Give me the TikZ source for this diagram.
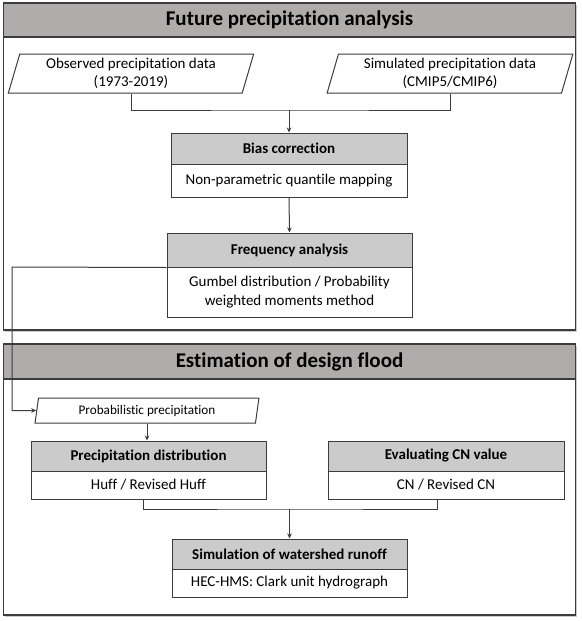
\documentclass[tikz,border=0pt]{standalone}
\usepackage{fontspec}
\setmainfont{Carlito}[Ligatures=NoCommon]
\usetikzlibrary{arrows.meta,shapes.geometric,shadows}
\definecolor{bandgray}{RGB}{176,172,172}
\definecolor{headgray}{RGB}{203,203,203}
\definecolor{edge}{RGB}{60,60,60}

\begin{document}
\begin{tikzpicture}[x=1pt,y=-1pt,>={Stealth[length=5pt,width=4.5pt]},
  frame/.style={draw=edge,fill=white,line width=1.5pt,minimum width=572,inner sep=0pt,
    drop shadow={shadow xshift=1.8pt,shadow yshift=-1.8pt,opacity=0.4}},
  band/.style={draw=edge,fill=bandgray,line width=1.5pt,minimum width=572,minimum height=34,
    inner sep=0pt,font=\fontsize{21}{25}\selectfont\bfseries},
  head/.style={draw=edge,fill=headgray,line width=1pt,inner sep=0pt,
    font=\fontsize{15}{18}\selectfont\bfseries},
  body/.style={draw=edge,fill=white,line width=1pt,inner sep=0pt,align=center,
    font=\fontsize{15}{19}\selectfont},
  data/.style={trapezium,trapezium left angle=74,trapezium right angle=106,
    trapezium stretches=true,draw=edge,fill=white,line width=1pt,inner sep=0pt,
    align=center,font=\fontsize{15}{18}\selectfont},
  link/.style={line width=1pt,draw=edge}]
  \useasboundingbox (0,0) rectangle (581,621);

  % first part
  \node[frame,minimum height=327] (upper) at (289.5,166.5) {};
  \node[band] (uppertitle) at (289.5,20) {Future precipitation analysis};
  \node[data,minimum width=246,minimum height=39] (obs) at (131,73.5) {Observed precipitation data\\(1973-2019)};
  \node[data,minimum width=246,minimum height=39] (sim) at (450,73.5) {Simulated precipitation data\\(CMIP5/CMIP6)};
  \node[head,minimum width=236,minimum height=31] (biash) at (289,148.5) {Bias correction};
  \node[body,minimum width=236,minimum height=33] (biasb) at (289,180.5) {Non-parametric quantile mapping};
  \node[head,minimum width=245,minimum height=34] (freqh) at (289.5,250) {Frequency analysis};
  \node[body,minimum width=245,minimum height=50] (freqb) at (289.5,292) {Gumbel distribution / Probability\\weighted moments method};

  % second part
  \node[frame,minimum height=271] (lower) at (289.5,479.5) {};
  \node[band,minimum height=35] (lowertitle) at (289.5,361.5) {Estimation of design flood};
  \node[data,minimum width=224,minimum height=25,trapezium left angle=79,trapezium right angle=101,
    font=\fontsize{13.2}{16}\selectfont] (prob) at (147,410.5) {Probabilistic precipitation};
  \node[head,minimum width=235,minimum height=30] (disth) at (148.5,456) {Precipitation distribution};
  \node[body,minimum width=235,minimum height=28] (distb) at (148.5,485) {Huff / Revised Huff};
  \node[head,minimum width=236,minimum height=30] (cnh) at (446,456) {Evaluating CN value};
  \node[body,minimum width=236,minimum height=28] (cnb) at (446,485) {CN / Revised CN};
  \node[head,minimum width=235,minimum height=30] (runh) at (289.5,554) {Simulation of watershed runoff};
  \node[body,minimum width=235,minimum height=28] (runb) at (289.5,583) {HEC-HMS: Clark unit hydrograph};

  % links
  \coordinate (join1) at (289,110);
  \coordinate (bend) at (12,267);
  \coordinate (join2) at (289.5,509);
  \draw[link] (obs.south) |- (join1) -| (sim.south);
  \draw[link,->] (join1) -- (biash.north);
  \draw[link,->] (biasb.south) -- (freqh.north);
  \draw[link,->] (freqh.south west) -- (bend) |- (prob.west);
  \draw[link,->] (prob.south) -- (prob.south |- disth.north);
  \draw[link] ([xshift=-5pt]distb.south) |- (join2) -| ([xshift=-9pt]cnb.south);
  \draw[link,->] (join2) -- (runh.north);
\end{tikzpicture}
\end{document}
